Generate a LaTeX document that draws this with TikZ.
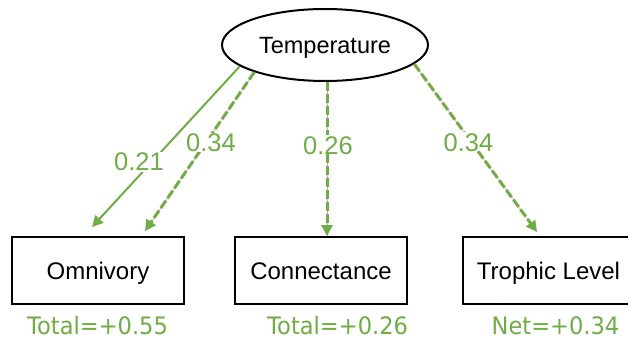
\documentclass[tikz,border=0pt]{standalone}
\usepackage{fontspec}
\setmainfont{Liberation Sans}
\newfontfamily\totfont[FakeStretch=0.94]{DejaVu Sans}
\usetikzlibrary{shapes.geometric,arrows.meta}
\definecolor{pathgreen}{RGB}{112,173,71}
\definecolor{linepink}{RGB}{232,150,205}
\begin{document}
\begin{tikzpicture}[x=1pt,y=-1pt,
  varbox/.style={draw=black, line width=2pt, rectangle, minimum width=172pt,
    minimum height=67pt, inner sep=0pt, font=\fontsize{24}{24}\selectfont,
    text height=17.2pt, text depth=0pt},
  latent/.style={draw=black, line width=2pt, ellipse, minimum width=206pt,
    minimum height=72pt, inner sep=0pt, font=\fontsize{23.5}{24}\selectfont,
    text height=17pt, text depth=0pt},
  solidlink/.style={draw=pathgreen, line width=2pt,
    -{Triangle[length=11pt,width=11pt]}},
  dashlink/.style={draw=pathgreen, line width=3pt, dash pattern=on 9pt off 3pt,
    -{Triangle[length=11pt,width=11pt]},
    preaction={draw=linepink, line width=0.6pt, solid, arrows=-}},
  coef/.style={fill=white, inner sep=0.5pt, text=pathgreen,
    font=\fontsize{25.5}{25.5}\selectfont, text height=18pt, text depth=0pt},
  effect/.style={anchor=base, text=pathgreen, inner sep=0pt,
    font=\totfont\fontsize{24}{24}\selectfont},
]
\useasboundingbox (0,0) rectangle (628,339);
\fill[white] (0,0) rectangle (628,339);

% variables
\node[latent] (temp) at (325,45) {Temperature};
\node[varbox] (omni) at (98,270.5) {Omnivory};
\node[varbox] (conn) at (321,270.5) {Connectance};
\node[varbox] (troph) at (548.5,270.5) {Trophic Level};

% paths from temperature
\draw[solidlink] (temp.194.8) -- ([xshift=-6pt,yshift=9pt]omni.north);
\draw[dashlink] (temp.201) -- ([xshift=47pt,yshift=5pt]omni.north);
\draw[dashlink] ([xshift=2pt]temp.south) -- ([xshift=6pt]conn.north);
\draw[dashlink] (temp.348.7) -- ([xshift=-11.5pt,yshift=4pt]troph.north);

% path coefficients
\node[coef] (c1) at (139,162) {0.21};
\node[coef] (c2) at (211,142.5) {0.34};
\node[coef] (c3) at (328,145) {0.26};
\node[coef] (c4) at (468.5,142) {0.34};

% summed effects
\node[effect] (e1) at (97.5,334) {Total=+0.55};
\node[effect] (e2) at (337.6,334) {Total=+0.26};
\node[effect] (e3) at (555.5,334) {Net=+0.34};
\end{tikzpicture}
\end{document}
